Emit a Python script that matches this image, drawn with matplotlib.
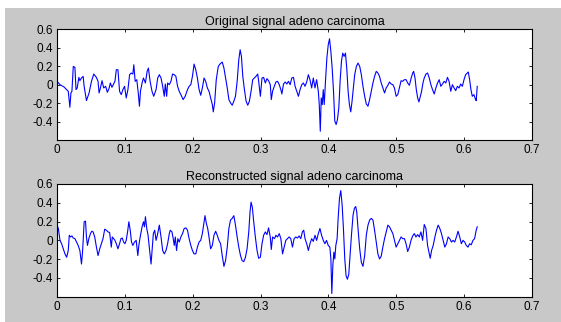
import numpy as np
import matplotlib
matplotlib.use("Agg")
import matplotlib.pyplot as plt
from matplotlib.patches import Rectangle

# original signal (time in s, amplitude)
orig_t = [0.000, 0.002, 0.0044, 0.0103, 0.0142, 0.0166, 0.019, 0.0205, 0.022, 0.024,
          0.0264, 0.028, 0.0298, 0.0322, 0.0337, 0.036, 0.0385, 0.040, 0.0434, 0.0473,
          0.0508, 0.0542, 0.058, 0.0605, 0.062, 0.064, 0.0664, 0.0688, 0.0717, 0.0742,
          0.0766, 0.0786, 0.081, 0.0835, 0.0854, 0.0874, 0.0898, 0.0922, 0.0947, 0.0971,
          0.0996, 0.102, 0.1045, 0.107, 0.1093, 0.1118, 0.1132, 0.1152, 0.1176, 0.120,
          0.1215, 0.123, 0.1254, 0.1274, 0.1303, 0.1328, 0.1347, 0.1372, 0.140, 0.1425,
          0.146, 0.1484, 0.1508, 0.1533, 0.1557, 0.1581, 0.1596, 0.1616, 0.1630, 0.1655,
          0.1679, 0.1703, 0.1728, 0.1752, 0.1777, 0.1801, 0.1825, 0.1859, 0.1889, 0.1923,
          0.1947, 0.1972, 0.1996, 0.2020, 0.2045, 0.2069, 0.2094, 0.2118, 0.2142, 0.2167,
          0.2191, 0.2216, 0.2240, 0.2264, 0.2289, 0.2303, 0.2323, 0.2347, 0.2377, 0.2401,
          0.2435, 0.2460, 0.2484, 0.2509, 0.2533, 0.2557, 0.2582, 0.2606, 0.2630, 0.2655,
          0.2679, 0.2699, 0.2718, 0.2738, 0.2762, 0.2787, 0.2811, 0.2835, 0.2860, 0.2884,
          0.2909, 0.2933, 0.2958, 0.2972, 0.2997, 0.3021, 0.3045, 0.3070, 0.3094, 0.3118,
          0.3143, 0.3158, 0.3177, 0.3202, 0.3226, 0.3250, 0.3275, 0.3299, 0.3314, 0.3338,
          0.3363, 0.3387, 0.3411, 0.3436, 0.3460, 0.3485, 0.3509, 0.3533, 0.3558, 0.3582,
          0.3607, 0.3631, 0.3655, 0.3680, 0.3704, 0.3728, 0.3753, 0.3777, 0.3802, 0.3826,
          0.3851, 0.3865, 0.3880, 0.3894, 0.3909, 0.3924, 0.3938, 0.3958, 0.3977, 0.3997,
          0.4016, 0.4036, 0.4055, 0.4075, 0.4094, 0.4114, 0.4133, 0.4153, 0.4172, 0.4192,
          0.4211, 0.4231, 0.4251, 0.4270, 0.4290, 0.4309, 0.4329, 0.4348, 0.4368, 0.4387,
          0.4412, 0.4436, 0.4461, 0.4485, 0.4509, 0.4534, 0.4558, 0.4583, 0.4607, 0.4631,
          0.4656, 0.4680, 0.4705, 0.4729, 0.4753, 0.4778, 0.4802, 0.4827, 0.4851, 0.4876,
          0.4900, 0.4924, 0.4949, 0.4973, 0.4998, 0.5022, 0.5046, 0.5071, 0.5095, 0.5120,
          0.5144, 0.5168, 0.5193, 0.5217, 0.5242, 0.5256, 0.5276, 0.5295, 0.5315, 0.5334,
          0.5354, 0.5373, 0.5393, 0.5412, 0.5437, 0.5461, 0.5486, 0.5510, 0.5534, 0.5559,
          0.5583, 0.5608, 0.5632, 0.5656, 0.5681, 0.5705, 0.5730, 0.5754, 0.5778, 0.5803,
          0.5827, 0.5852, 0.5876, 0.5900, 0.5925, 0.5949, 0.5974, 0.5998, 0.6022, 0.6047,
          0.6061, 0.6081, 0.6100, 0.6120, 0.6144, 0.6168, 0.6178, 0.6193]
orig_y = [0.036, 0.020, 0.000, -0.025, -0.054, -0.072, -0.245, -0.090, -0.072, 0.198,
          0.187, -0.054, -0.036, 0.079, 0.043, 0.072, 0.090, -0.018, -0.173, -0.090,
          0.036, 0.115, 0.079, 0.036, -0.090, -0.036, 0.043, -0.036, -0.018, -0.083,
          -0.043, 0.018, -0.029, 0.007, 0.036, 0.162, 0.162, -0.072, -0.108, -0.054,
          -0.018, -0.144, -0.054, 0.108, 0.126, 0.115, 0.216, 0.036, 0.054, -0.108,
          -0.234, -0.072, 0.018, 0.072, 0.018, 0.144, 0.180, 0.036, -0.072, -0.126,
          -0.054, 0.072, 0.108, 0.072, -0.018, -0.126, 0.007, -0.126, 0.018, 0.000,
          0.036, 0.115, 0.108, 0.090, -0.018, -0.072, -0.108, -0.162, -0.126, -0.054,
          -0.018, 0.000, 0.090, 0.223, 0.162, 0.072, -0.054, -0.115, -0.036, 0.072,
          0.036, -0.036, -0.072, -0.144, -0.216, -0.295, -0.198, 0.054, 0.198, 0.223,
          0.245, 0.180, 0.072, -0.036, -0.162, -0.198, -0.223, -0.180, -0.126, 0.036,
          0.270, 0.378, 0.306, 0.090, -0.054, -0.180, -0.223, -0.180, -0.072, 0.054,
          0.072, 0.090, 0.115, 0.036, -0.126, 0.072, 0.079, 0.018, 0.065, 0.043,
          0.000, -0.162, -0.072, -0.018, 0.029, 0.036, 0.000, -0.054, -0.101, 0.007,
          0.029, 0.007, 0.036, 0.000, 0.072, 0.079, -0.018, -0.072, -0.126, -0.054,
          0.000, 0.018, -0.018, 0.029, 0.108, 0.054, -0.036, 0.072, -0.036, 0.054,
          -0.072, -0.216, -0.505, -0.144, -0.216, -0.054, -0.216, 0.054, 0.288, 0.432,
          0.497, 0.360, 0.180, -0.072, -0.396, -0.432, -0.378, -0.252, 0.036, 0.252,
          0.342, 0.306, 0.342, 0.180, -0.072, -0.216, -0.295, -0.180, -0.036, 0.108,
          0.198, 0.234, 0.198, 0.108, -0.018, -0.126, -0.209, -0.234, -0.162, -0.072,
          0.018, 0.090, 0.144, 0.126, 0.090, 0.018, -0.036, -0.090, -0.036, -0.007,
          0.029, 0.007, 0.000, -0.036, -0.126, -0.108, -0.036, 0.043, 0.036, 0.054,
          0.054, 0.018, -0.007, 0.065, 0.126, 0.144, 0.072, -0.054, -0.144, -0.187,
          -0.126, -0.072, 0.018, 0.072, 0.115, 0.126, 0.072, 0.000, -0.054, -0.101,
          -0.036, 0.018, 0.054, -0.018, 0.007, 0.036, 0.018, 0.079, 0.036, -0.072,
          0.000, -0.036, -0.065, -0.018, -0.036, 0.007, -0.018, 0.054, 0.108, 0.126,
          0.137, 0.054, -0.054, -0.126, -0.108, -0.162, -0.173, -0.018]

# reconstructed signal
rec_t = [0.0000, 0.0020, 0.0044, 0.0068, 0.0093, 0.0117, 0.0142, 0.0166, 0.0181, 0.0200,
         0.0220, 0.0239, 0.0264, 0.0288, 0.0312, 0.0337, 0.0361, 0.0376, 0.0386, 0.0400,
         0.0420, 0.0434, 0.0449, 0.0469, 0.0493, 0.0513, 0.0532, 0.0556, 0.0581, 0.0605,
         0.0630, 0.0654, 0.0678, 0.0703, 0.0727, 0.0752, 0.0776, 0.0800, 0.0815, 0.0835,
         0.0854, 0.0874, 0.0898, 0.0922, 0.0942, 0.0962, 0.0981, 0.1001, 0.1020, 0.1040,
         0.1059, 0.1079, 0.1098, 0.1118, 0.1142, 0.1167, 0.1191, 0.1206, 0.1230, 0.1254,
         0.1274, 0.1289, 0.1303, 0.1323, 0.1342, 0.1362, 0.1386, 0.1401, 0.1420, 0.1440,
         0.1460, 0.1479, 0.1508, 0.1533, 0.1557, 0.1581, 0.1606, 0.1630, 0.1655, 0.1669,
         0.1694, 0.1713, 0.1728, 0.1743, 0.1762, 0.1781, 0.1801, 0.1825, 0.1850, 0.1874,
         0.1899, 0.1923, 0.1947, 0.1972, 0.1996, 0.2020, 0.2045, 0.2069, 0.2094, 0.2118,
         0.2142, 0.2167, 0.2181, 0.2201, 0.2221, 0.2240, 0.2264, 0.2289, 0.2313, 0.2338,
         0.2362, 0.2386, 0.2411, 0.2435, 0.2460, 0.2484, 0.2509, 0.2533, 0.2557, 0.2582,
         0.2606, 0.2630, 0.2655, 0.2679, 0.2704, 0.2728, 0.2752, 0.2777, 0.2801, 0.2826,
         0.2845, 0.2860, 0.2879, 0.2899, 0.2923, 0.2948, 0.2972, 0.2997, 0.3021, 0.3045,
         0.3070, 0.3094, 0.3118, 0.3143, 0.3158, 0.3177, 0.3206, 0.3226, 0.3250, 0.3275,
         0.3299, 0.3324, 0.3348, 0.3372, 0.3397, 0.3421, 0.3445, 0.3470, 0.3494, 0.3519,
         0.3543, 0.3568, 0.3592, 0.3616, 0.3636, 0.3655, 0.3680, 0.3704, 0.3728, 0.3753,
         0.3777, 0.3802, 0.3826, 0.3851, 0.3875, 0.3899, 0.3924, 0.3948, 0.3972, 0.3997,
         0.4021, 0.4036, 0.4050, 0.4065, 0.4080, 0.4094, 0.4109, 0.4128, 0.4143, 0.4163,
         0.4182, 0.4202, 0.4221, 0.4241, 0.4260, 0.4280, 0.4300, 0.4319, 0.4339, 0.4363,
         0.4383, 0.4402, 0.4417, 0.4436, 0.4461, 0.4485, 0.4509, 0.4534, 0.4558, 0.4583,
         0.4607, 0.4631, 0.4656, 0.4680, 0.4705, 0.4729, 0.4753, 0.4778, 0.4802, 0.4827,
         0.4851, 0.4876, 0.4900, 0.4924, 0.4949, 0.4973, 0.4998, 0.5022, 0.5046, 0.5071,
         0.5095, 0.5120, 0.5144, 0.5168, 0.5193, 0.5217, 0.5242, 0.5266, 0.5290, 0.5315,
         0.5339, 0.5363, 0.5388, 0.5412, 0.5437, 0.5461, 0.5486, 0.5500, 0.5520, 0.5544,
         0.5569, 0.5593, 0.5617, 0.5642, 0.5666, 0.5691, 0.5715, 0.5739, 0.5764, 0.5788,
         0.5813, 0.5837, 0.5861, 0.5886, 0.5910, 0.5935, 0.5959, 0.5983, 0.6008, 0.6032,
         0.6057, 0.6081, 0.6105, 0.6130, 0.6154, 0.6178, 0.6193]
rec_y = [0.162, 0.126, 0.000, -0.036, -0.090, -0.144, -0.180, -0.108, 0.054, 0.036,
         0.047, 0.025, 0.018, -0.018, -0.054, -0.108, -0.252, -0.126, 0.000, 0.198,
         0.205, 0.036, -0.054, 0.018, 0.072, 0.097, 0.090, 0.036, -0.072, -0.162,
         -0.090, -0.036, 0.018, 0.119, 0.108, 0.090, 0.083, -0.072, 0.036, 0.018,
         0.000, -0.036, -0.090, -0.036, 0.018, 0.025, -0.018, -0.036, 0.000, 0.090,
         0.198, 0.108, -0.018, -0.054, -0.018, 0.000, -0.162, -0.054, 0.054, 0.144,
         0.198, 0.144, 0.252, 0.126, 0.054, -0.090, -0.252, -0.108, 0.072, 0.108,
         0.000, 0.054, 0.162, 0.036, -0.108, -0.144, -0.108, -0.036, 0.072, 0.108,
         0.090, 0.018, -0.054, 0.036, -0.108, 0.018, -0.018, 0.036, 0.072, 0.126,
         0.133, 0.108, 0.018, -0.054, -0.108, -0.144, -0.144, -0.072, -0.018, 0.000,
         0.072, 0.198, 0.263, 0.180, 0.126, 0.036, -0.090, -0.054, 0.054, 0.097,
         0.054, 0.000, -0.036, -0.162, -0.277, -0.216, -0.072, 0.126, 0.216, 0.234,
         0.263, 0.162, 0.036, -0.072, -0.162, -0.216, -0.227, -0.180, -0.090, 0.090,
         0.306, 0.407, 0.350, 0.198, 0.036, -0.108, -0.191, -0.180, -0.036, 0.054,
         0.090, 0.061, 0.133, 0.036, -0.097, 0.036, 0.018, 0.054, 0.036, 0.072,
         0.018, -0.144, -0.072, 0.000, 0.018, 0.036, 0.018, -0.072, 0.018, 0.036,
         0.025, 0.047, 0.018, 0.090, 0.108, 0.018, -0.036, -0.108, -0.036, 0.018,
         -0.011, 0.054, 0.000, 0.072, 0.126, 0.054, 0.000, -0.036, 0.000, -0.054,
         -0.072, -0.198, -0.566, -0.270, -0.126, -0.198, -0.054, 0.018, 0.234, 0.450,
         0.530, 0.378, 0.126, -0.198, -0.378, -0.414, -0.360, -0.162, 0.054, 0.270,
         0.342, 0.360, 0.306, 0.126, -0.090, -0.234, -0.277, -0.162, 0.054, 0.162,
         0.216, 0.234, 0.216, 0.108, -0.018, -0.144, -0.198, -0.169, -0.072, 0.018,
         0.090, 0.162, 0.144, 0.108, 0.072, 0.000, -0.072, -0.036, 0.000, 0.036,
         0.018, 0.018, -0.036, -0.119, -0.072, 0.000, 0.047, 0.072, 0.036, 0.061,
         0.036, 0.090, 0.000, 0.169, 0.126, -0.054, -0.144, -0.191, -0.108, -0.054,
         0.036, 0.108, 0.162, 0.126, 0.072, 0.000, -0.072, -0.036, 0.036, 0.018,
         -0.018, 0.000, -0.018, 0.036, 0.097, 0.036, -0.036, 0.000, -0.018, -0.054,
         -0.072, -0.036, -0.047, 0.000, 0.018, 0.108, 0.144]

titles = ["Original signal adeno carcinoma", "Reconstructed signal adeno carcinoma"]
xticks = [0, 0.1, 0.2, 0.3, 0.4, 0.5, 0.6, 0.7]
xlabels = ["0", "0.1", "0.2", "0.3", "0.4", "0.5", "0.6", "0.7"]
yticks = [-0.4, -0.2, 0, 0.2, 0.4, 0.6]
ylabels = ["-0.4", "-0.2", "0", "0.2", "0.4", "0.6"]

plt.rcParams['font.family'] = ['Liberation Sans', 'DejaVu Sans']

fig = plt.figure(figsize=(5.61, 3.22), dpi=100, facecolor="white")
# matlab style grey panel, with a white strip on the left and top
panel = Rectangle((5 / 561, 0), 1, 1 - 8 / 322, transform=fig.transFigure,
                  facecolor="#c8c8c8", edgecolor="none", zorder=-10)
fig.add_artist(panel)

ax1 = fig.add_axes([57 / 561, 1 - 140 / 322, 475 / 561, 110.7 / 322])
ax2 = fig.add_axes([57 / 561, 1 - 296.7 / 322, 475 / 561, 112.7 / 322])

for ax, t, y, title in [(ax1, orig_t, orig_y, titles[0]), (ax2, rec_t, rec_y, titles[1])]:
    ax.set_facecolor("white")
    ax.plot(t, y, color="#0000ff", linewidth=0.8)
    ax.set_xlim(0, 0.7)
    ax.set_ylim(-0.6, 0.6)
    ax.set_xticks(xticks)
    ax.set_xticklabels(xlabels)
    ax.set_yticks(yticks)
    ax.set_yticklabels(ylabels)
    ax.tick_params(direction="in", length=2.5, width=0.6, labelsize=8.5,
                   top=True, right=True, pad=3)
    for s in ax.spines.values():
        s.set_linewidth(0.8)
    ax.set_title(title, fontsize=9, pad=3)

fig.savefig("out.png", dpi=100)
